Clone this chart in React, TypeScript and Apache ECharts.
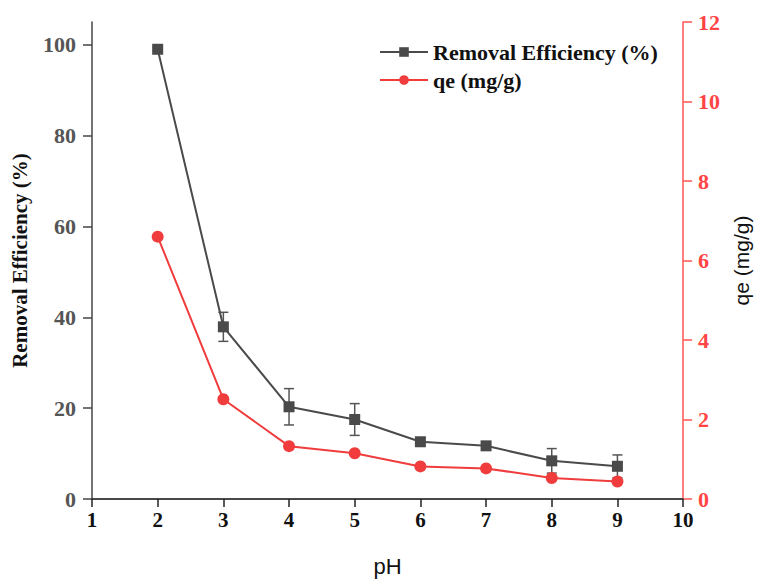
import React, { useEffect, useRef } from "react";
import * as echarts from "echarts";

const pHValues = [2, 3, 4, 5, 6, 7, 8, 9];
const removalEfficiency = [99.0, 37.9, 20.3, 17.5, 12.6, 11.7, 8.4, 7.2];
const removalError = [0.4, 3.2, 4.0, 3.5, 0.8, 0.8, 2.7, 2.5];
const qeValues = [6.6, 2.51, 1.33, 1.15, 0.82, 0.77, 0.53, 0.44];
const leftTicks = [0, 20, 40, 60, 80, 100];

const SERIF = '"Liberation Serif", "Times New Roman", serif';
const SANS = '"Liberation Sans", Arial, sans-serif';
const DARK = "#4a4a4a";
const RED = "#f03c3c";

export default function App() {
  const ref = useRef<HTMLDivElement>(null);
  useEffect(() => {
    if (!ref.current) return;
    const chart = echarts.init(ref.current, null, { renderer: "svg" });
    const reData = pHValues.map((x, i) => [x, removalEfficiency[i]]);
    const qeData = pHValues.map((x, i) => [x, qeValues[i]]);
    const errData = pHValues.map((x, i) => [
      x,
      removalEfficiency[i] - removalError[i],
      removalEfficiency[i] + removalError[i],
    ]);
    chart.setOption({
      animation: false,
      backgroundColor: "#ffffff",
      grid: { left: 92, right: 74, top: 22, bottom: 82 },
      legend: {
        orient: "vertical",
        left: 374,
        top: 36,
        itemGap: 6,
        itemWidth: 48,
        itemHeight: 12,
        data: ["Removal Efficiency (%)", "qe (mg/g)"],
        textStyle: {
          fontFamily: SERIF,
          fontWeight: "bold",
          fontSize: 22,
          color: "#111",
        },
      },
      xAxis: [
        {
          type: "value",
          min: 1,
          max: 10,
          interval: 1,
          name: "pH",
          nameLocation: "middle",
          nameGap: 56,
          nameTextStyle: { fontFamily: SANS, fontSize: 22, color: "#111" },
          axisLine: { show: true, lineStyle: { color: "#222", width: 1.5 } },
          axisTick: { show: true, inside: false, length: 8, lineStyle: { color: "#222", width: 1.5 } },
          axisLabel: {
            fontFamily: SERIF,
            fontWeight: "bold",
            fontSize: 21,
            color: "#111",
            margin: 10,
          },
          splitLine: { show: false },
        },
        {
          type: "value",
          position: "top",
          min: 1,
          max: 10,
          axisLine: { show: true, lineStyle: { color: "#444", width: 1.5 } },
          axisTick: { show: false },
          axisLabel: { show: false },
          splitLine: { show: false },
        },
      ],
      yAxis: [
        {
          type: "value",
          min: 0,
          max: 105,
          position: "left",
          name: "Removal Efficiency (%)",
          nameLocation: "middle",
          nameRotate: 90,
          nameGap: 62,
          nameTextStyle: {
            fontFamily: SERIF,
            fontWeight: "bold",
            fontSize: 21,
            color: "#111",
          },
          axisLine: { show: true, lineStyle: { color: "#444", width: 1.5 } },
          axisTick: {
            show: true,
            length: 9,
            customValues: leftTicks,
            lineStyle: { color: "#444", width: 1.5 },
          },
          axisLabel: {
            customValues: leftTicks,
            fontFamily: SERIF,
            fontWeight: "bold",
            fontSize: 22,
            color: "#555",
            margin: 16,
          },
          splitLine: { show: false },
        },
        {
          type: "value",
          min: 0,
          max: 12,
          interval: 2,
          position: "right",
          name: "qe (mg/g)",
          nameLocation: "middle",
          nameRotate: 90,
          nameGap: 46,
          nameTextStyle: { fontFamily: SANS, fontSize: 21, color: "#111" },
          axisLine: { show: true, lineStyle: { color: "#f55", width: 1.5 } },
          axisTick: { show: true, length: 9, lineStyle: { color: "#f55", width: 1.5 } },
          axisLabel: {
            fontFamily: SERIF,
            fontWeight: "bold",
            fontSize: 22,
            color: "#f44",
            margin: 15,
          },
          splitLine: { show: false },
        },
      ],
      series: [
        {
          type: "custom",
          name: "err",
          xAxisIndex: 0,
          yAxisIndex: 0,
          z: 1,
          data: errData,
          renderItem: (params: any, api: any) => {
            const x = api.value(0);
            const lo = api.coord([x, api.value(1)]);
            const hi = api.coord([x, api.value(2)]);
            const hw = 5;
            const style = { stroke: "#555", lineWidth: 1.5 };
            return {
              type: "group",
              children: [
                { type: "line", shape: { x1: lo[0], y1: lo[1], x2: hi[0], y2: hi[1] }, style },
                { type: "line", shape: { x1: hi[0] - hw, y1: hi[1], x2: hi[0] + hw, y2: hi[1] }, style },
                { type: "line", shape: { x1: lo[0] - hw, y1: lo[1], x2: lo[0] + hw, y2: lo[1] }, style },
              ],
            };
          },
        },
        {
          type: "line",
          name: "Removal Efficiency (%)",
          xAxisIndex: 0,
          yAxisIndex: 0,
          z: 3,
          data: reData,
          symbol: "rect",
          symbolSize: 11,
          itemStyle: { color: DARK },
          lineStyle: { color: DARK, width: 2 },
        },
        {
          type: "line",
          name: "qe (mg/g)",
          xAxisIndex: 0,
          yAxisIndex: 1,
          z: 2,
          data: qeData,
          symbol: "circle",
          symbolSize: 12,
          itemStyle: { color: RED },
          lineStyle: { color: RED, width: 2 },
        },
      ],
    });
    return () => chart.dispose();
  }, []);
  return <div ref={ref} style={{ width: 760, height: 582, position: "absolute", left: 0, top: 0 }} />;
}
